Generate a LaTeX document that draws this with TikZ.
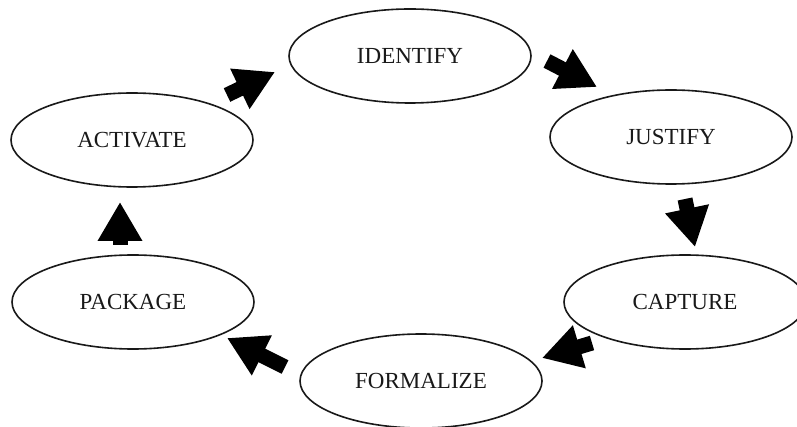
\documentclass[tikz,border=0pt]{standalone}
\usepackage{fontspec}
\setmainfont{Liberation Serif}
\usetikzlibrary{shapes.geometric,arrows.meta}
\begin{document}
\begin{tikzpicture}[x=1pt,y=-1pt,
  stage/.style={draw=black!90,line width=1.6pt,ellipse,inner sep=0pt,
    minimum width=242pt,minimum height=94pt,
    font=\fontsize{23}{27}\selectfont,text=black!90},
  blockarrow/.style={line width=15pt,black,
    -{Triangle[length=39pt,width=42pt]}}]
\useasboundingbox (0,0) rectangle (797,427);
\fill[white] (0,0) rectangle (797,427);
\node[stage] (identify) at (410,56) {IDENTIFY};
\node[stage] (justify) at (671,137) {JUSTIFY};
\node[stage] (capture) at (685,302) {CAPTURE};
\node[stage] (formalize) at (421,381) {FORMALIZE};
\node[stage] (package) at (133,302) {PACKAGE};
\node[stage] (activate) at (132,140) {ACTIVATE};
\coordinate (a1s) at (227,95);  \coordinate (a1e) at (275,72);
\coordinate (a2s) at (547,61);  \coordinate (a2e) at (597,87);
\coordinate (a3s) at (685,199); \coordinate (a3e) at (695,247);
\coordinate (a4s) at (592,343); \coordinate (a4e) at (542,358);
\coordinate (a5s) at (285,367); \coordinate (a5e) at (227,338);
\coordinate (a6s) at (120,245); \coordinate (a6e) at (120,202);
\draw[blockarrow] (a1s) -- (a1e);
\draw[blockarrow] (a2s) -- (a2e);
\draw[blockarrow] (a3s) -- (a3e);
\draw[blockarrow] (a4s) -- (a4e);
\draw[blockarrow] (a5s) -- (a5e);
\draw[blockarrow] (a6s) -- (a6e);
\end{tikzpicture}
\end{document}
